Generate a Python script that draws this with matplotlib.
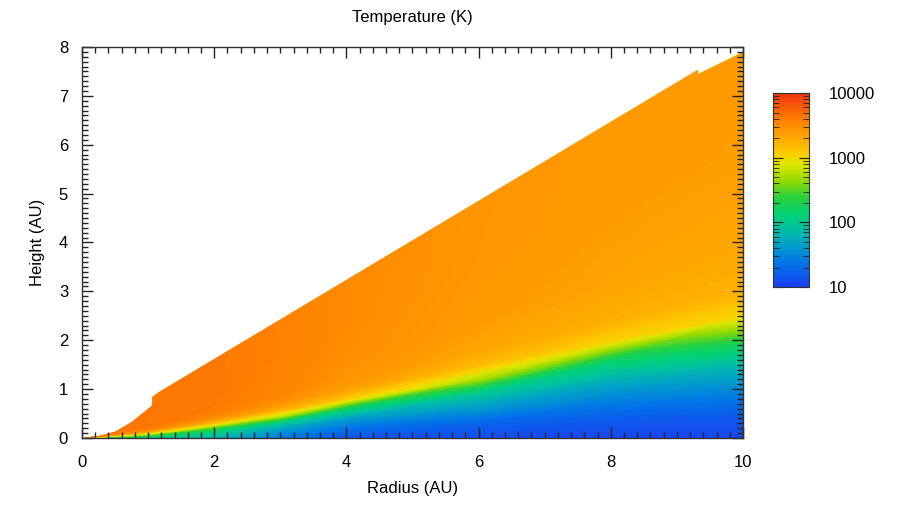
import numpy as np
import matplotlib
matplotlib.use("Agg")
import matplotlib.pyplot as plt
import matplotlib.tri as mtri
from matplotlib.colors import LinearSegmentedColormap
from matplotlib.patches import Polygon
from matplotlib.ticker import MultipleLocator, FixedLocator

plt.rcParams["font.family"] = ["Liberation Sans", "DejaVu Sans"]

# grid columns (AU) and rows given as height / radius
radius_au = [0.05, 1, 2, 3, 4, 6, 8, 10]
height_frac = [0.0, 0.05, 0.1, 0.15, 0.2, 0.25, 0.3, 0.4, 0.6, 1.0]

# temperature (K), one row per radius, one value per height fraction
temp_k = [
    [200, 800, 3000, 4300, 4300, 4300, 4300, 4300, 4300, 4300],
    [100, 250, 1000, 3000, 4000, 4300, 4300, 4300, 4300, 4300],
    [60, 100, 250, 1300, 3000, 3800, 4100, 4200, 4200, 4200],
    [25, 40, 90, 600, 2000, 3000, 3500, 3700, 3800, 3800],
    [14, 22, 45, 150, 1200, 2300, 2800, 3100, 3300, 3300],
    [12, 18, 40, 90, 500, 1500, 2100, 2500, 2700, 2800],
    [11, 16, 30, 60, 160, 1100, 1800, 2200, 2500, 2600],
    [11, 16, 32, 70, 220, 1000, 1700, 2100, 2400, 2500],
]

# upper edge of the model domain
edge_r = [0, 0.25, 0.5, 0.75, 1.0, 1.06, 1.06, 1.16, 9.32, 9.32, 10, 10]
edge_z = [0, 0.04, 0.13, 0.33, 0.6, 0.67, 0.84, 0.94, 7.54, 7.45, 7.9, 0]

cb_ticks = [10, 100, 1000, 10000]

cmap = LinearSegmentedColormap.from_list("temp", [
    (0.0, (0.1, 0.25, 0.95)),
    (0.13, (0.0, 0.47, 0.9)),
    (0.22, (0.0, 0.63, 0.78)),
    (0.30, (0.0, 0.76, 0.63)),
    (0.37, (0.0, 0.82, 0.47)),
    (0.46, (0.16, 0.82, 0.24)),
    (0.55, (0.59, 0.86, 0.0)),
    (0.63, (0.86, 0.9, 0.0)),
    (0.68, (0.98, 0.82, 0.0)),
    (0.75, (1.0, 0.69, 0.0)),
    (0.86, (1.0, 0.51, 0.0)),
    (1.0, (0.94, 0.2, 0.08)),
])

rr, ff = np.meshgrid(radius_au, height_frac, indexing="ij")
zz = rr * ff
logt = np.log10(np.array(temp_k, dtype=float))

# triangles that follow the grid rows (no Delaunay flips)
nr, nf = rr.shape
tris = []
for i in range(nr - 1):
    for j in range(nf - 1):
        a, b = i * nf + j, (i + 1) * nf + j
        c, d = (i + 1) * nf + j + 1, i * nf + j + 1
        tris += [[a, b, c], [a, c, d]]

fig = plt.figure(figsize=(9.12, 5.09), dpi=100)
ax = fig.add_axes([0.0899, 0.1395, 0.7248, 0.7682])

tri = mtri.Triangulation(rr.ravel(), zz.ravel(), triangles=tris)
levels = np.linspace(1, 4, 181)
cs = ax.tricontourf(tri, logt.ravel(), levels=levels, cmap=cmap, extend="both")
clip = Polygon(np.column_stack([edge_r, edge_z]), closed=True,
               facecolor="none", edgecolor="none", transform=ax.transData)
ax.add_patch(clip)
cs.set_clip_path(clip)

ax.set_xlim(0, 10)
ax.set_ylim(0, 8)
ax.xaxis.set_major_locator(MultipleLocator(2))
ax.xaxis.set_minor_locator(MultipleLocator(0.2))
ax.yaxis.set_major_locator(MultipleLocator(1))
ax.yaxis.set_minor_locator(MultipleLocator(0.1))
ax.tick_params(which="both", direction="in", top=True, right=True,
               color="#222222", width=1)
ax.tick_params(which="major", length=8)
ax.tick_params(which="minor", length=4)
ax.tick_params(axis="x", which="major", labelsize=12, pad=12)
ax.tick_params(axis="y", which="major", labelsize=12, pad=10)
for s in ax.spines.values():
    s.set_color("#333333")
    s.set_linewidth(1)

ax.set_title("Temperature (K)", fontsize=12, pad=18)
ax.set_xlabel("Radius (AU)", fontsize=12, labelpad=8)
ax.set_ylabel("Height (AU)", fontsize=12, labelpad=10)

# colour bar
cax = fig.add_axes([0.8476, 0.4361, 0.0395, 0.3811])
bar_vals = np.linspace(1, 4, 256).reshape(-1, 1)
cax.imshow(bar_vals, cmap=cmap, vmin=1, vmax=4, origin="lower",
           aspect="auto", extent=[0, 1, 1, 4])
cax.set_xticks([])
cax.yaxis.set_major_locator(FixedLocator(np.log10(cb_ticks)))
minor = [np.log10(m * d) for d in (10, 100, 1000) for m in range(2, 10)]
cax.yaxis.set_minor_locator(FixedLocator(minor))
cax.set_yticklabels([str(t) for t in cb_ticks])
cax.yaxis.tick_right()
cax.tick_params(which="both", direction="in", left=True, right=True,
                color="#222222", labelsize=12, pad=14)
cax.tick_params(which="major", length=7)
cax.tick_params(which="minor", length=4)
for s in cax.spines.values():
    s.set_color("#333333")

fig.savefig("out.png", dpi=100)
